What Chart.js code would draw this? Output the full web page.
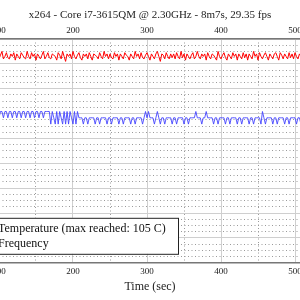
<!DOCTYPE html>
<html>
<head>
<meta charset="utf-8">
<script src="https://cdn.jsdelivr.net/npm/chart.js@4/dist/chart.umd.min.js"></script>
<style>
  html, body { margin: 0; padding: 0; background: #fff; overflow: hidden; }
  #wrap { position: absolute; left: -50px; top: 0; width: 400px; height: 300px; }
</style>
</head>
<body>
<div id="wrap"><canvas id="grafica" width="400" height="300"></canvas></div>
<script>
// time axis: samples every 2 s starting at 96 s
const tInicio = 96;
const tPaso = 2;
const ticksTiempo = [100, 200, 300, 400, 500];

const etiquetas = ["Temperature (max reached: 105 C)", "Frequency"];

// temperature (C)
const temperatura = [
  103, 104.5, 102, 103.5, 105, 102, 103, 104.5, 102.5, 102, 104, 103, 104.5, 101.5, 104, 103, 102, 104.5, 103.5, 102.5,
  102, 105, 103, 102, 104.5, 103, 104, 101.5, 104, 103, 102, 103.5, 105, 102, 103, 104.5, 102.5, 102, 104, 103.5,
  103, 101.5, 104.5, 103.5, 102, 105, 103, 101, 104, 103, 104, 102, 105, 103, 102, 103.5, 104.5, 102.5, 101.5, 104,
  103, 104, 102, 104.5, 103, 101.5, 104, 103.5, 103, 102, 104.5, 103, 102, 105, 103, 104, 102, 104, 102.5, 102,
  104.5, 103, 104, 101.5, 104, 103, 102, 104.5, 103.5, 103, 101.5, 104, 103, 102, 105, 103, 104, 102, 104.5, 102.5,
  102, 103.5, 104.5, 103, 101.5, 104, 103, 102, 104, 105, 103, 101, 104, 103.5, 102, 104.5, 103, 102, 104, 102.5,
  104, 102, 104.5, 103, 102, 105, 102.5, 104, 101.5, 104, 103, 102, 103.5, 104.5, 102, 103, 105, 103, 102, 104,
  103, 104, 101.5, 104.5, 103, 102, 104, 103.5, 102.5, 101.5, 105, 103, 102, 103.5, 104.5, 102.5, 101.5, 104, 103, 102,
  104.5, 103, 104, 101.5, 104, 103, 102, 104.5, 102.5, 104, 101.5, 104, 103, 102, 105, 103, 104, 101.5, 104.5, 103,
  102, 103.5, 104.5, 103, 101.5, 104, 103, 102, 104, 104.5, 103, 101.5, 104.5, 103.5, 102, 104, 103, 102, 104.5, 102.5,
  104, 102, 104.5, 103, 102, 104, 103, 104.5, 102, 103.5, 104.5, 102.5
];

// CPU frequency (MHz)
const frecuencia = [
  2400, 2400, 2300, 2400, 2400, 2300, 2400, 2400, 2300, 2400, 2400, 2300, 2400, 2400, 2300, 2400, 2400, 2300, 2400, 2400,
  2300, 2400, 2400, 2300, 2400, 2400, 2300, 2400, 2400, 2300, 2400, 2400, 2300, 2400, 2400, 2400, 2400, 2200, 2400, 2300,
  2200, 2400, 2200, 2400, 2300, 2200, 2400, 2200, 2400, 2200, 2400, 2300, 2200, 2400, 2200, 2400,
  2300, 2300, 2300, 2200, 2300, 2300, 2200, 2300, 2300, 2300, 2300, 2200, 2300, 2300, 2200, 2300,
  2300, 2300, 2300, 2200, 2300, 2300, 2200, 2300, 2300, 2300, 2300, 2200, 2300, 2300, 2200, 2300,
  2300, 2300, 2300, 2200, 2300, 2300, 2200, 2300, 2300, 2300, 2300, 2200, 2300, 2400, 2300, 2400,
  2300, 2300, 2300, 2200, 2300, 2400, 2300, 2200, 2300, 2300, 2200, 2300, 2300, 2300, 2300, 2200,
  2300, 2300, 2200, 2300, 2300, 2300, 2300, 2200, 2300, 2300, 2200, 2300, 2300, 2300, 2300, 2400,
  2300, 2300, 2300, 2200, 2300, 2300, 2400, 2300, 2300, 2300, 2300, 2200, 2300, 2300, 2200, 2300,
  2300, 2300, 2300, 2200, 2300, 2300, 2200, 2300, 2300, 2300, 2300, 2200, 2300, 2300, 2200, 2300,
  2300, 2300, 2300, 2200, 2300, 2300, 2200, 2300, 2300, 2300, 2300, 2200, 2400, 2300, 2200, 2300,
  2300, 2300, 2300, 2200, 2300, 2300, 2200, 2300, 2300, 2300, 2300, 2200, 2300, 2300, 2200, 2300,
  2300, 2300, 2300, 2200, 2300, 2300, 2200, 2300
];

function puntos(valores) {
  return valores.map((v, i) => ({ x: tInicio + i * tPaso, y: v }));
}

// legend box drawn inside the plot, lower left
const leyendaCaja = {
  id: "leyendaCaja",
  afterDatasetsDraw(chart) {
    const ctx = chart.ctx;
    const area = chart.chartArea;
    const x0 = area.left + 14, y0 = area.bottom - 45, w = 214, h = 36;
    ctx.save();
    ctx.fillStyle = "#ffffff";
    ctx.fillRect(x0, y0, w, h);
    ctx.strokeStyle = "#222";
    ctx.lineWidth = 1;
    ctx.strokeRect(x0 + 0.5, y0 + 0.5, w, h);
    ctx.font = "12px 'Liberation Serif'";
    ctx.textBaseline = "middle";
    chart.data.datasets.forEach((ds, i) => {
      const yy = y0 + 11 + i * 15;
      ctx.strokeStyle = ds.borderColor;
      ctx.beginPath();
      ctx.moveTo(x0 + 6, yy);
      ctx.lineTo(x0 + 30, yy);
      ctx.stroke();
      ctx.fillStyle = "#111";
      ctx.fillText(ds.label, x0 + 34, yy);
    });
    ctx.restore();
  },
};

window.onload = () => {
  const fuente = { family: "'Liberation Serif', serif", size: 9 };
  new Chart(document.getElementById("grafica"), {
    type: "line",
    data: {
      datasets: [
        {
          label: etiquetas[0],
          data: puntos(temperatura),
          borderColor: "#ff0000",
          borderWidth: 1,
          pointRadius: 0,
          tension: 0,
          yAxisID: "y",
        },
        {
          label: etiquetas[1],
          data: puntos(frecuencia),
          borderColor: "#4444ff",
          borderWidth: 0.9,
          pointRadius: 0,
          tension: 0,
          yAxisID: "yF",
        },
      ],
    },
    options: {
      responsive: false,
      animation: false,
      layout: { padding: 0 },
      plugins: {
        legend: { display: false },
        tooltip: { enabled: false },
        title: {
          display: true,
          text: "x264 - Core i7-3615QM @ 2.30GHz - 8m7s, 29.35 fps",
          color: "#222",
          font: { family: "'Liberation Serif', serif", size: 11, weight: "normal" },
          padding: { top: 9, bottom: 0 },
        },
      },
      scales: {
        xMenor: {
          type: "linear",
          position: "bottom",
          min: 33.8,
          max: 574.3,
          ticks: { display: false, stepSize: 50, includeBounds: false },
          grid: { color: "#9a9a9a", drawTicks: false, lineWidth: 1 },
          border: { display: false, dash: [1, 2.5] },
        },
        x: {
          type: "linear",
          position: "bottom",
          min: 33.8,
          max: 574.3,
          afterBuildTicks: (eje) => { eje.ticks = ticksTiempo.map((v) => ({ value: v })); },
          ticks: { color: "#222", font: fuente, padding: 3, maxRotation: 0 },
          grid: { color: "#cfcfcf", drawTicks: false, lineWidth: 1 },
          border: { color: "#777", width: 1.5 },
          title: {
            display: true,
            text: "Time (sec)",
            color: "#222",
            font: { family: "'Liberation Serif', serif", size: 12 },
            padding: { top: 0, bottom: 6 },
          },
        },
        xArriba: {
          type: "linear",
          position: "top",
          min: 33.8,
          max: 574.3,
          afterBuildTicks: (eje) => { eje.ticks = ticksTiempo.map((v) => ({ value: v })); },
          ticks: { color: "#222", font: fuente, padding: 3, maxRotation: 0 },
          grid: { drawOnChartArea: false, drawTicks: false },
          border: { color: "#777", width: 1.5 },
        },
        yMenor: {
          position: "left",
          min: 20,
          max: 110,
          ticks: { display: false, stepSize: 2.5 },
          grid: { color: "#9a9a9a", drawTicks: false },
          border: { display: false, dash: [1, 2.5] },
        },
        y: {
          position: "left",
          min: 20,
          max: 110,
          ticks: { display: false, stepSize: 10 },
          grid: { color: "#cfcfcf", drawTicks: false },
          border: { display: false },
        },
        yF: {
          position: "right",
          min: 0,
          max: 3550,
          display: false,
        },
      },
    },
    plugins: [leyendaCaja],
  });
};
</script>
</body>
</html>
